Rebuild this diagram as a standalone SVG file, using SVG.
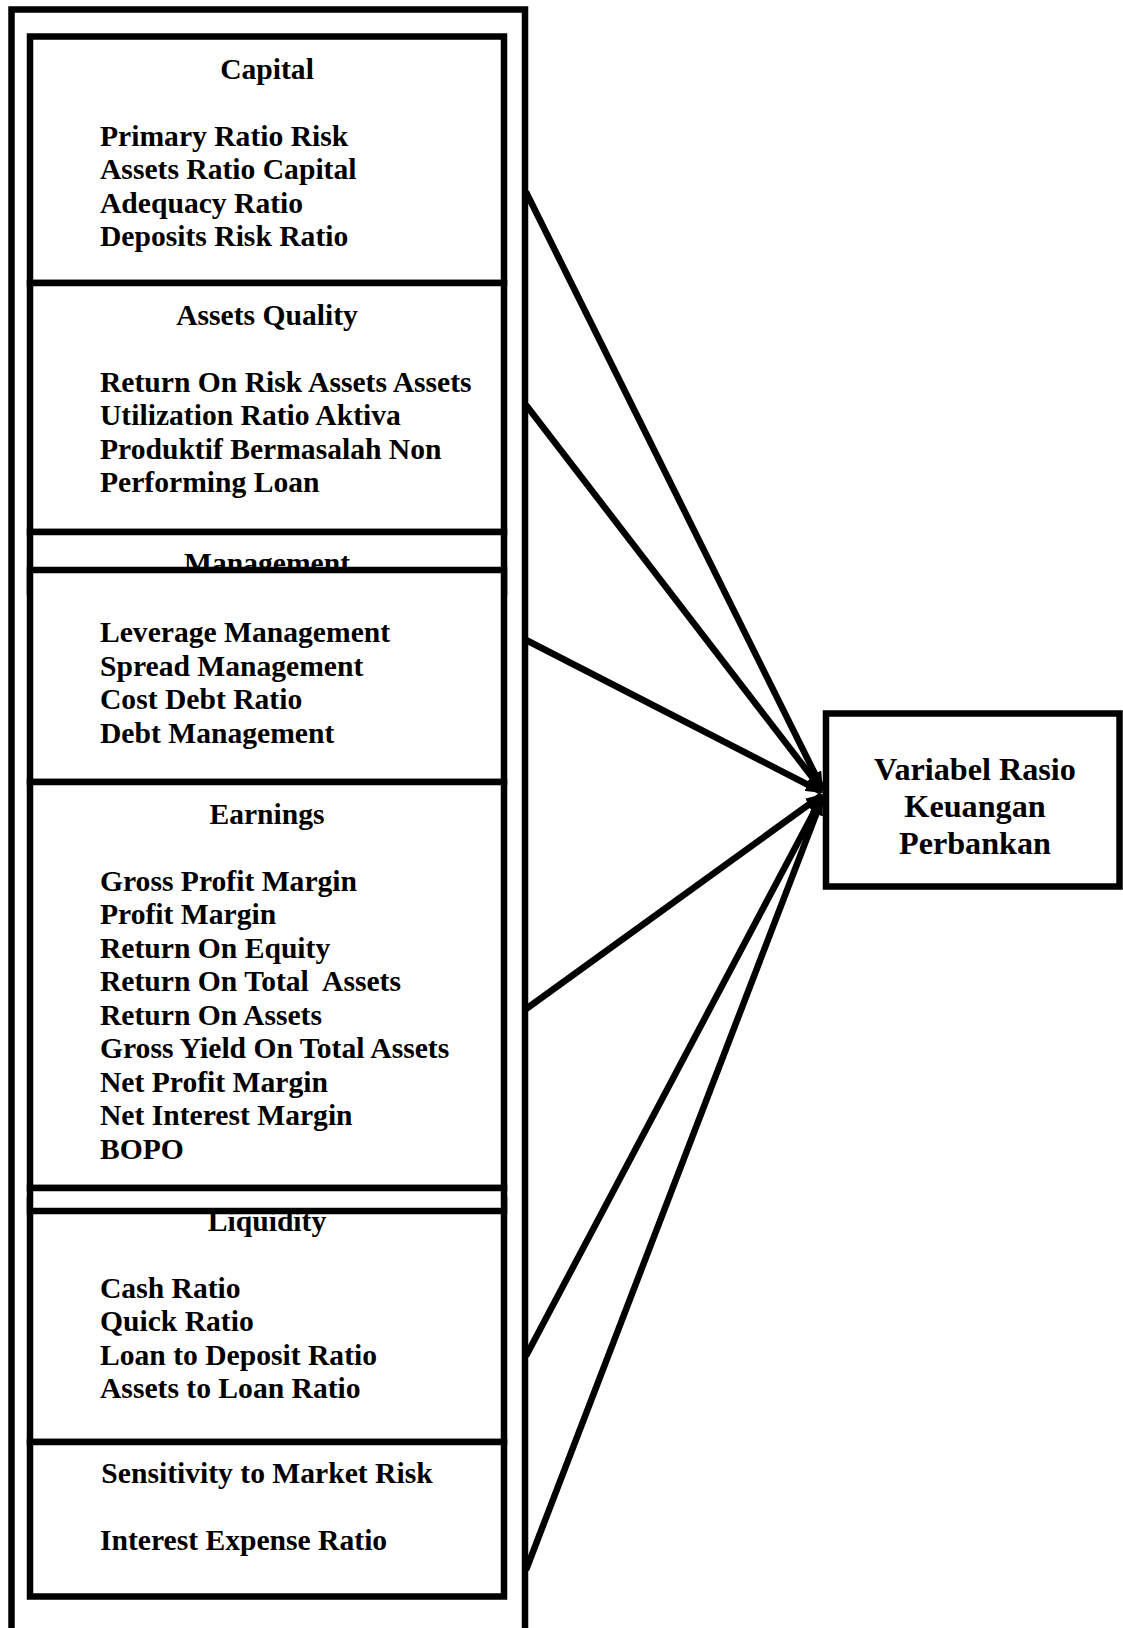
<svg xmlns="http://www.w3.org/2000/svg" width="1123" height="1628" viewBox="0 0 1123 1628">
<style>
.box{fill:#fff;stroke:#000;stroke-width:6.5}
.outer{fill:none;stroke:#000;stroke-width:6.5}
text{font-family:"Liberation Serif","Times New Roman",serif;font-weight:bold;font-size:29.6px;fill:#000}
.t{text-anchor:middle}
.big{font-size:32.2px;text-anchor:middle}
.conn{stroke:#000;stroke-width:6.5;fill:none;marker-end:url(#ah)}
</style>
<defs>
<marker id="ah" markerUnits="userSpaceOnUse" markerWidth="18" markerHeight="14" refX="16" refY="7" orient="auto">
<path d="M0,0 L18,7 L0,14 Z" fill="#000"/>
</marker>
</defs>
<rect id="outer-frame" class="outer" x="11.5" y="9.5" width="513.5" height="1660"/>
<g id="capital">
<rect class="box" x="30" y="36.5" width="474" height="246.5"/>
<text class="t" x="267" y="78.5">Capital</text>
<text x="100" y="145.5">Primary Ratio Risk</text>
<text x="100" y="179">Assets Ratio Capital</text>
<text x="100" y="212.5">Adequacy Ratio</text>
<text x="100" y="246">Deposits Risk Ratio</text>
</g>
<g id="assets-quality">
<rect class="box" x="30" y="283" width="474" height="249"/>
<text class="t" x="267" y="324.5">Assets Quality</text>
<text x="100" y="391.5">Return On Risk Assets Assets</text>
<text x="100" y="425">Utilization Ratio Aktiva</text>
<text x="100" y="458.5">Produktif Bermasalah Non</text>
<text x="100" y="492">Performing Loan</text>
</g>
<g id="management">
<rect class="box" x="30" y="532" width="474" height="60"/>
<text class="t" x="267" y="573">Management</text>
<rect class="box" x="30" y="570" width="474" height="212"/>
<text x="100" y="642">Leverage Management</text>
<text x="100" y="675.5">Spread Management</text>
<text x="100" y="709">Cost Debt Ratio</text>
<text x="100" y="742.5">Debt Management</text>
</g>
<g id="liquidity">
<rect class="box" x="30" y="1200" width="474" height="242"/>
<text class="t" x="267" y="1230.5">Liquidity</text>
<text x="100" y="1297.5">Cash Ratio</text>
<text x="100" y="1331">Quick Ratio</text>
<text x="100" y="1364.5">Loan to Deposit Ratio</text>
<text x="100" y="1398">Assets to Loan Ratio</text>
</g>
<g id="earnings">
<rect class="box" x="30" y="782" width="474" height="406"/>
<rect class="box" x="30" y="1188" width="474" height="23"/>
<text class="t" x="267" y="823.5">Earnings</text>
<text x="100" y="890.5">Gross Profit Margin</text>
<text x="100" y="924">Profit Margin</text>
<text x="100" y="957.5">Return On Equity</text>
<text x="100" y="991" xml:space="preserve">Return On Total  Assets</text>
<text x="100" y="1024.5">Return On Assets</text>
<text x="100" y="1058">Gross Yield On Total Assets</text>
<text x="100" y="1091.5">Net Profit Margin</text>
<text x="100" y="1125">Net Interest Margin</text>
<text x="100" y="1158.5">BOPO</text>
</g>
<g id="sensitivity">
<rect class="box" x="30" y="1442" width="474" height="154.5"/>
<text class="t" x="267" y="1482.5">Sensitivity to Market Risk</text>
<text x="100" y="1549.5">Interest Expense Ratio</text>
</g>
<g id="target">
<rect class="box" x="826" y="713.5" width="293.5" height="173"/>
<text class="big" x="975" y="780">Variabel Rasio</text>
<text class="big" x="975" y="817">Keuangan</text>
<text class="big" x="975" y="854">Perbankan</text>
</g>
<g id="connectors">
<line class="conn" x1="526" y1="192" x2="822" y2="788"/>
<line class="conn" x1="526" y1="405" x2="822" y2="790"/>
<line class="conn" x1="526" y1="640" x2="822" y2="792"/>
<line class="conn" x1="526" y1="1009" x2="822" y2="795"/>
<line class="conn" x1="526" y1="1356" x2="822" y2="797"/>
<line class="conn" x1="526" y1="1570" x2="822" y2="799"/>
</g>
</svg>
